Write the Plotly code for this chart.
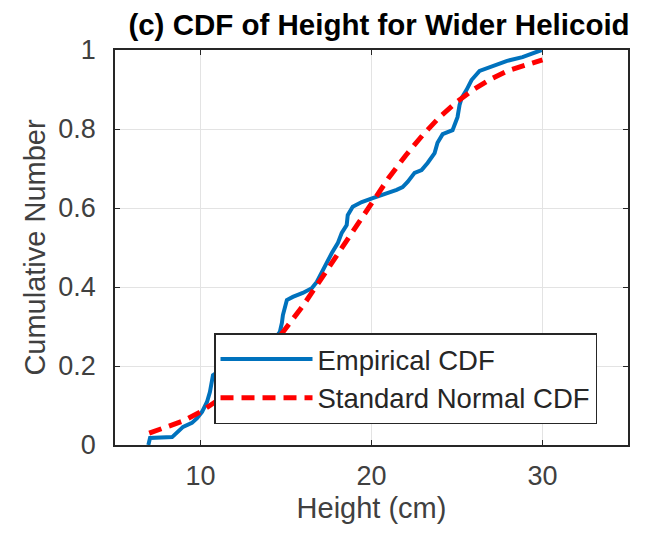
import plotly.graph_objects as go

# Empirical CDF
emp_x = [6.95, 7.05, 8.34, 8.63, 8.98, 9.50, 9.80, 10.09, 10.38, 10.55, 10.73,
         11.2, 12.0, 12.8, 13.6, 14.2,
         14.52, 14.64, 14.76, 14.82, 15.05, 15.40, 15.98, 16.51, 16.80, 17.09,
         17.38, 17.68, 18.03, 18.26, 18.55, 18.61, 18.90, 19.43, 20.07, 20.65,
         21.47, 21.82, 22.11, 22.52, 22.93, 23.28, 23.69, 23.86, 24.16, 24.74,
         25.03, 25.15, 25.27, 25.56, 25.85, 26.32, 27.07, 27.89, 28.83, 29.95]
emp_y = [0.0, 0.018, 0.020, 0.033, 0.046, 0.056, 0.068, 0.084, 0.109, 0.134, 0.177,
         0.19, 0.20, 0.22, 0.24, 0.26,
         0.278, 0.286, 0.309, 0.329, 0.367, 0.375, 0.385, 0.397, 0.413, 0.438,
         0.463, 0.486, 0.511, 0.537, 0.557, 0.582, 0.603, 0.615, 0.625, 0.633,
         0.646, 0.653, 0.666, 0.689, 0.696, 0.714, 0.739, 0.765, 0.787, 0.797,
         0.830, 0.861, 0.878, 0.899, 0.924, 0.947, 0.959, 0.972, 0.982, 1.0]

# Fitted normal CDF
norm_x = [7, 8, 9, 10, 11, 12, 13, 14, 15, 16, 17, 18, 19, 20, 21, 22, 23, 24,
          25, 26, 27, 28, 29, 30]
norm_y = [0.030, 0.044, 0.061, 0.084, 0.113, 0.148, 0.190, 0.239, 0.294, 0.353,
          0.417, 0.483, 0.549, 0.614, 0.676, 0.733, 0.785, 0.831, 0.869, 0.901,
          0.927, 0.948, 0.963, 0.975]

x_ticks = [10, 20, 30]
y_ticks = [0, 0.2, 0.4, 0.6, 0.8, 1]

FONT = "Liberation Sans, Arial, sans-serif"
AX = "#262626"

fig = go.Figure()
fig.add_trace(go.Scatter(x=emp_x, y=emp_y, mode="lines", name="Empirical CDF",
                         line=dict(color="#0072BD", width=4)))
fig.add_trace(go.Scatter(x=norm_x, y=norm_y, mode="lines", name="Standard Normal CDF",
                         line=dict(color="#FF0000", width=5, dash="13px,8px")))

axis_common = dict(showline=True, mirror="ticks", linecolor=AX, linewidth=1.5,
                   ticks="inside", ticklen=5, tickcolor=AX, automargin=False,
                   showgrid=True, gridcolor="#e3e3e3", gridwidth=1,
                   zeroline=False, tickfont=dict(family=FONT, size=27, color="#404040"))

fig.update_xaxes(range=[5, 35], tickvals=x_ticks, ticklabelstandoff=6,
                 title=dict(text="Height (cm)", font=dict(family=FONT, size=29, color="#404040"),
                            standoff=8),
                 **axis_common)
fig.update_yaxes(range=[0, 1], tickvals=y_ticks, ticklabelstandoff=12,
                 title=dict(text="Cumulative Number", font=dict(family=FONT, size=29, color="#404040"),
                            standoff=4),
                 **axis_common)

# The page body adds an 8px offset, so the figure is sized to fit the window
fig.update_layout(
    width=643, height=525,
    margin=dict(l=107, r=23, t=42, b=88),
    paper_bgcolor="white", plot_bgcolor="white",
    title=dict(text="<b>(c) CDF of Height for Wider Helicoid</b>", x=0.577, xanchor="center",
               y=0.969, yanchor="middle",
               font=dict(family=FONT, size=29.5, color="black")),
    showlegend=True,
    legend=dict(x=0.193, y=0.2835, xanchor="left", yanchor="top",
                bgcolor="white", bordercolor=AX, borderwidth=1.5,
                font=dict(family=FONT, size=27.5, color="#262626"),
                itemwidth=92, tracegroupgap=0),
)

fig.write_html("out.html")
